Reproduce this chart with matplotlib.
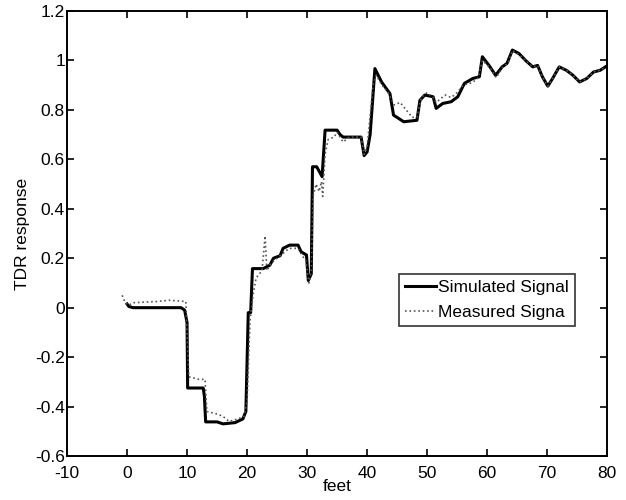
import numpy as np
import matplotlib
matplotlib.use('Agg')
import matplotlib.pyplot as plt

plt.rcParams['font.family'] = ['Liberation Sans', 'DejaVu Sans']
plt.rcParams['axes.unicode_minus'] = False

# simulated TDR trace
x_sim = [0, 0.3, 1, 5, 9, 9.6, 10, 10.1, 11, 12.7, 12.9, 13.1, 15, 16, 18, 19.3,
         19.8, 20.2, 20.6, 20.9, 22.7, 23.8, 24.4, 25.5, 26.0, 27.1, 28.5, 29.0,
         29.9, 30.2, 30.7, 30.9, 31.6, 32.5, 33.0, 35.0, 35.5, 36.0, 37.0, 39.0,
         39.5, 40.0, 40.5, 41.3, 42.4, 43.8, 44.4, 46.1, 48.3, 48.8, 49.6, 51.0,
         51.5, 52.6, 54.0, 55.1, 56.2, 57.6, 58.7, 59.2, 60.3, 61.4, 62.5, 63.3,
         64.2, 65.3, 66.4, 67.6, 68.4, 69.2, 70.1, 70.9, 72.0, 73.2, 74.3, 75.4,
         76.6, 77.7, 78.8, 79.7]
y_sim = [0.015, 0.005, 0.0, 0.0, 0.0, -0.01, -0.06, -0.325, -0.325, -0.325, -0.36,
         -0.462, -0.462, -0.47, -0.465, -0.45, -0.42, -0.02, -0.02, 0.158, 0.158,
         0.172, 0.2, 0.21, 0.24, 0.253, 0.253, 0.226, 0.213, 0.11, 0.137, 0.57,
         0.57, 0.53, 0.718, 0.718, 0.7, 0.69, 0.69, 0.69, 0.615, 0.63, 0.7, 0.967,
         0.913, 0.866, 0.779, 0.752, 0.758, 0.839, 0.86, 0.853, 0.806, 0.826,
         0.833, 0.853, 0.907, 0.927, 0.934, 1.015, 0.98, 0.94, 0.974, 0.988,
         1.042, 1.028, 1.0, 0.974, 0.98, 0.934, 0.896, 0.927, 0.974, 0.96, 0.94,
         0.913, 0.927, 0.953, 0.96, 0.974]

# measured TDR trace
x_meas = [-0.8, -0.3, 0.3, 1, 5, 7, 9.8, 10.0, 10.3, 12, 13, 13.3, 15, 16, 17,
          18.5, 19.5, 20.0, 20.5, 21.0, 21.5, 22.5, 23.0, 23.3, 24, 25, 26, 27,
          28.5, 29.2, 29.8, 30.3, 30.7, 31.0, 31.5, 32.0, 32.4, 32.6, 33.0, 33.5,
          34.5, 35.0, 36.0, 37.0, 39.0, 39.5, 40.0, 41.0, 41.5, 42.5, 43.5, 44.5,
          45.5, 46.5, 47.5, 48.3, 49.0, 50.0, 51.0, 51.5, 53.0, 54.0, 55.0, 56.0,
          57.5, 58.5, 59.2, 60.5, 61.5, 62.5, 63.5, 64.2, 65.5, 66.4, 67.6, 68.4,
          69.2, 70.1, 70.9, 72.0, 73.2, 74.3, 75.4, 76.6, 77.7, 78.8, 79.7]
y_meas = [0.05, 0.02, 0.01, 0.02, 0.025, 0.03, 0.025, -0.1, -0.28, -0.29, -0.29,
          -0.42, -0.43, -0.44, -0.46, -0.45, -0.44, -0.38, -0.05, 0.05, 0.12,
          0.15, 0.29, 0.15, 0.18, 0.2, 0.22, 0.24, 0.24, 0.21, 0.19, 0.1, 0.15,
          0.45, 0.5, 0.47, 0.51, 0.45, 0.62, 0.68, 0.69, 0.71, 0.67, 0.69, 0.69,
          0.62, 0.65, 0.9, 0.94, 0.9, 0.87, 0.82, 0.83, 0.8, 0.77, 0.77, 0.85,
          0.87, 0.85, 0.83, 0.86, 0.85, 0.87, 0.9, 0.91, 0.93, 1.0, 0.97, 0.93,
          0.97, 0.99, 1.04, 1.02, 1.0, 0.974, 0.98, 0.934, 0.896, 0.927, 0.974,
          0.96, 0.94, 0.913, 0.927, 0.953, 0.96, 0.974]

x_ticks = np.arange(-10, 81, 10)
y_ticks = [-0.6, -0.4, -0.2, 0, 0.2, 0.4, 0.6, 0.8, 1, 1.2]
y_labels = ['-0.6', '-0.4', '-0.2', '0', '0.2', '0.4', '0.6', '0.8', '1', '1.2']

fig = plt.figure(figsize=(6.26, 5.0), dpi=100)
ax = fig.add_axes([0.107, 0.088, 0.863, 0.89])

ax.plot(x_sim, y_sim, color='black', lw=2.2, label='Simulated Signal')
ax.plot(x_meas, y_meas, color='#555555', lw=1.2, ls=':', label='Measured Signa')

ax.set_xlim(-10, 80)
ax.set_ylim(-0.6, 1.2)
ax.set_xticks(x_ticks)
ax.set_yticks(y_ticks)
ax.set_yticklabels(y_labels)
ax.tick_params(direction='in', top=True, right=True, labelsize=12.5, length=5, width=1.2)
ax.tick_params(axis='x', pad=7)
ax.tick_params(axis='y', pad=1.5)
for s in ax.spines.values():
    s.set_linewidth(1.4)

ax.set_xlabel('feet', fontsize=12.5, labelpad=-1)
ax.set_ylabel('TDR response', fontsize=12.5)
ax.yaxis.set_label_coords(-0.068, 0.5)

leg = ax.legend(loc='lower left', bbox_to_anchor=(0.614, 0.292), fontsize=12.5,
                frameon=True, fancybox=False, edgecolor='black', handlelength=1.8,
                handletextpad=0.1, borderpad=0.35, labelspacing=0.55, borderaxespad=0)
leg.get_frame().set_linewidth(1.2)

fig.savefig('out.png', dpi=100)
